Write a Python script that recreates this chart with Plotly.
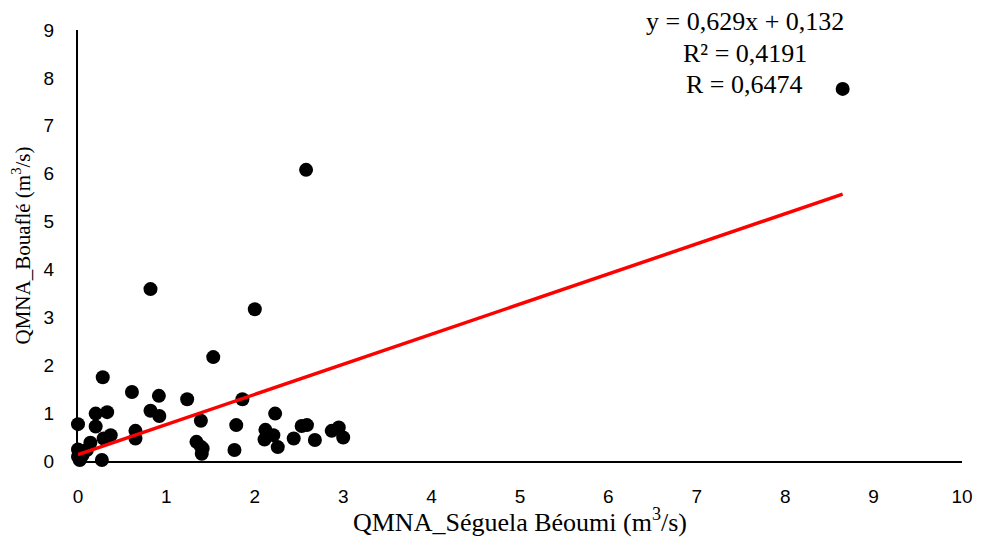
import plotly.graph_objects as go

# Data
seguela_x = [0.00, 0.00, 0.02, 0.00, 0.10, 0.05, 0.14, 0.20, 0.20, 0.27, 0.28, 0.29, 0.33, 0.37,
             0.61, 0.65, 0.65, 0.82, 0.82, 0.92, 0.915, 1.235, 1.34, 1.39, 1.39, 1.40, 1.41, 1.53,
             1.77, 1.79, 1.86, 2.00, 2.11, 2.12, 2.21, 2.23, 2.26, 2.44, 2.53, 2.58, 2.59, 2.68,
             2.87, 2.95, 3.00, 8.65]
bouafle_y = [0.77, 0.24, 0.02, 0.09, 0.23, 0.12, 0.38, 0.99, 0.72, 0.02, 1.75, 0.47, 1.02, 0.54,
             1.44, 0.63, 0.47, 3.59, 1.05, 0.94, 1.36, 1.29, 0.40, 0.84, 0.30, 0.15, 0.26, 2.17,
             0.23, 0.75, 1.29, 3.17, 0.45, 0.65, 0.54, 0.99, 0.29, 0.47, 0.73, 6.08, 0.75, 0.44,
             0.63, 0.70, 0.49, 7.77]

slope = 0.629
intercept = 0.132
trend_x = [0, max(seguela_x)]
trend_y = [slope * v + intercept for v in trend_x]

x_ticks = list(range(0, 11))
y_ticks = list(range(0, 10))
equation_lines = ["y = 0,629x + 0,132", "R² = 0,4191", "R = 0,6474"]

fig = go.Figure()
fig.add_trace(go.Scatter(x=seguela_x, y=bouafle_y, mode="markers",
                         marker=dict(color="black", size=14),
                         cliponaxis=False, showlegend=False))
fig.add_trace(go.Scatter(x=trend_x, y=trend_y, mode="lines",
                         line=dict(color="#ff0000", width=3.5),
                         cliponaxis=False, showlegend=False))

tick_font = dict(family="Liberation Sans Narrow, Arial Narrow, sans-serif", size=19, color="black")
serif = "Liberation Serif, Times New Roman, serif"

# page body has an 8px default margin; size the figure to fit the window exactly
fig.update_layout(
    width=966, height=529,
    margin=dict(l=70, r=12, t=22, b=76),
    plot_bgcolor="white", paper_bgcolor="white",
    xaxis=dict(range=[0, 10], tickvals=x_ticks, ticktext=[str(v) for v in x_ticks],
               showgrid=False, zeroline=False, showline=True, linecolor="black", linewidth=2,
               ticks="", ticklabelstandoff=17, tickfont=tick_font, automargin=False,
               ticklabeloverflow="allow",
               title=dict(text="QMNA_Séguela Béoumi (m<sup>3</sup>/s)",
                          font=dict(family=serif, size=26, color="black"))),
    yaxis=dict(range=[0, 9], tickvals=y_ticks, ticktext=[str(v) for v in y_ticks],
               showgrid=False, zeroline=False, showline=True, linecolor="black", linewidth=2,
               ticks="", ticklabelstandoff=18, tickfont=tick_font, automargin=False,
               ticklabeloverflow="allow",
               title=dict(text="QMNA_Bouaflé (m<sup>3</sup>/s)",
                          font=dict(family=serif, size=21, color="black"))),
)

line_y = [1.0186, 0.9466, 0.8747]
for txt, yy in zip(equation_lines, line_y):
    fig.add_annotation(x=7.54, y=yy, xref="x", yref="paper", xanchor="center", yanchor="middle",
                       text=txt, showarrow=False,
                       font=dict(family=serif, size=26, color="black"))

fig.write_html("out.html")
